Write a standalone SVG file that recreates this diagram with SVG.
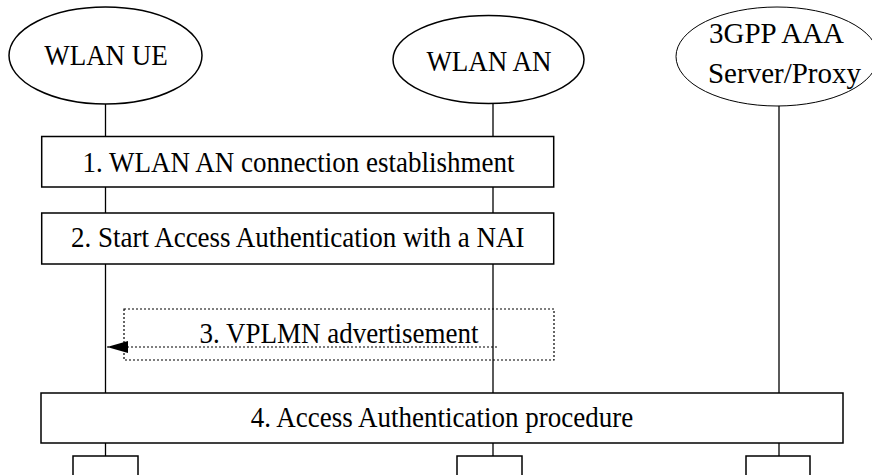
<svg xmlns="http://www.w3.org/2000/svg" width="872" height="475" viewBox="0 0 872 475">
<defs>
<style>
.sh{fill:#fff;stroke:#000;stroke-width:1.5}
.ln{fill:none;stroke:#000;stroke-width:1.3}
.dot{fill:none;stroke:#000;stroke-width:1.2;stroke-dasharray:2 2}
.t{font-family:"Liberation Serif","Times New Roman",serif;font-size:27px;fill:#000;text-anchor:middle}
.big{font-size:29px;text-anchor:start}
</style>
<marker id="ah" viewBox="0 0 10 10" refX="10" refY="5" markerWidth="21" markerHeight="12" markerUnits="userSpaceOnUse" orient="auto" preserveAspectRatio="none">
<path d="M0,0 L10,5 L0,10 Z" fill="#000"/>
</marker>
</defs>
<rect width="872" height="475" fill="#fff"/>
<g id="connectors">
<line class="ln" x1="105.5" y1="104" x2="105.5" y2="456"/>
<line class="ln" x1="493" y1="103" x2="493" y2="456"/>
<line class="ln" x1="779" y1="106" x2="779" y2="456"/>
<line class="dot" x1="497" y1="347" x2="107" y2="347" marker-end="url(#ah)"/>
</g>
<g id="wlan-ue">
<ellipse class="sh" cx="105.5" cy="55.5" rx="96.5" ry="48.5"/>
<text class="t" transform="translate(106,65) scale(1,1.08)">WLAN UE</text>
</g>
<g id="wlan-an">
<ellipse class="sh" cx="488.5" cy="59.5" rx="95.5" ry="44"/>
<text class="t" transform="translate(489,70.5) scale(1,1.08)">WLAN AN</text>
</g>
<g id="aaa">
<ellipse class="sh" cx="777" cy="56.5" rx="101" ry="49.5" style="stroke-width:1"/>
<text class="t big" transform="translate(709,43) scale(1,1.05)">3GPP AAA</text>
<text class="t big" transform="translate(708,83) scale(1,1.05)">Server/Proxy</text>
</g>
<g id="step1">
<rect class="sh" x="41.7" y="136.5" width="512" height="50.5"/>
<text class="t" transform="translate(298.5,171.5) scale(1,1.08)">1. WLAN AN connection establishment</text>
</g>
<g id="step2">
<rect class="sh" x="41.7" y="213" width="512" height="51"/>
<text class="t" transform="translate(297.7,247) scale(1,1.08)">2. Start Access Authentication with a NAI</text>
</g>
<g id="step3">
<rect class="dot" x="124" y="309" width="430" height="51"/>
<text class="t" transform="translate(339,343) scale(1,1.08)">3. VPLMN advertisement</text>
</g>
<g id="step4">
<rect class="sh" x="41" y="393" width="802" height="50"/>
<text class="t" transform="translate(442,427) scale(1,1.08)">4. Access Authentication procedure</text>
</g>
<g id="end-ue"><rect class="sh" x="73" y="456" width="65" height="30"/></g>
<g id="end-an"><rect class="sh" x="457" y="456" width="65" height="30"/></g>
<g id="end-aaa"><rect class="sh" x="746" y="456" width="64" height="30"/></g>
</svg>
